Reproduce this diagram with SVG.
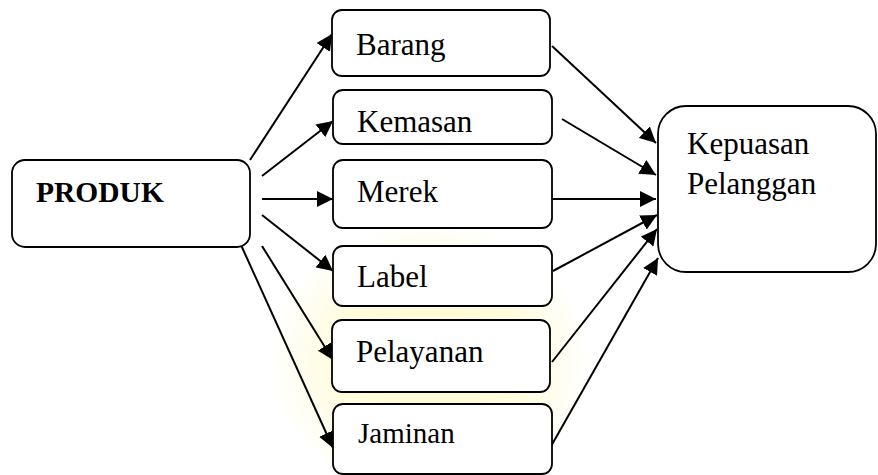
<svg xmlns="http://www.w3.org/2000/svg" width="878" height="475" viewBox="0 0 878 475">
<style>
.box{fill:#fff;stroke:#000;stroke-width:1.8}
.t{font-family:"Liberation Serif","Times New Roman",serif;font-size:31px;fill:#000}
.b{font-weight:bold;font-size:29.5px}
.c{fill:none;stroke:#000;stroke-width:2;marker-end:url(#ah)}
</style>
<defs>
<marker id="ah" markerUnits="userSpaceOnUse" markerWidth="17" markerHeight="16" refX="16" refY="8" orient="auto">
<path d="M0,0 L16,8 L0,16 z" fill="#000"/>
</marker>
<radialGradient id="wm" cx="0.5" cy="0.5" r="0.5">
<stop offset="0" stop-color="#fff6a0" stop-opacity="0.5"/>
<stop offset="0.6" stop-color="#fff6a0" stop-opacity="0.35"/>
<stop offset="1" stop-color="#fff6a0" stop-opacity="0"/>
</radialGradient>
</defs>
<rect width="878" height="475" fill="#fff"/>
<ellipse cx="430" cy="360" rx="160" ry="140" fill="url(#wm)"/>
<g id="connectors">
<line class="c" x1="250" y1="160" x2="332" y2="34"/>
<line class="c" x1="262" y1="176" x2="333" y2="121"/>
<line class="c" x1="262" y1="199" x2="333" y2="199"/>
<line class="c" x1="262" y1="215" x2="333" y2="271"/>
<line class="c" x1="262" y1="246" x2="333" y2="360"/>
<line class="c" x1="241" y1="245" x2="333" y2="448"/>
<line class="c" x1="552" y1="46" x2="656" y2="143"/>
<line class="c" x1="562" y1="119" x2="656" y2="175"/>
<line class="c" x1="549" y1="199" x2="656" y2="199"/>
<line class="c" x1="553" y1="271" x2="657" y2="215"/>
<line class="c" x1="552" y1="362" x2="657" y2="229"/>
<line class="c" x1="550" y1="448" x2="658" y2="258"/>
</g>
<g id="produk"><rect class="box" x="12" y="160" width="238" height="87" rx="13"/><text class="t b" x="36" y="202">PRODUK</text></g>
<g id="barang"><rect class="box" x="332" y="10" width="218" height="66" rx="10"/><text class="t" x="356" y="55">Barang</text></g>
<g id="kemasan"><rect class="box" x="333" y="90" width="219" height="54" rx="10"/><text class="t" x="357" y="132">Kemasan</text></g>
<g id="merek"><rect class="box" x="333" y="160" width="219" height="68" rx="10"/><text class="t" x="357" y="202">Merek</text></g>
<g id="label"><rect class="box" x="333" y="246" width="219" height="60" rx="10"/><text class="t" x="357" y="287">Label</text></g>
<g id="pelayanan"><rect class="box" x="332" y="320" width="218" height="72" rx="10"/><text class="t" x="356" y="362">Pelayanan</text></g>
<g id="jaminan"><rect class="box" x="333" y="404" width="219" height="70" rx="10"/><text class="t" x="358" y="443" style="font-size:29px">Jaminan</text></g>
<g id="kepuasan"><rect class="box" x="658" y="106" width="218" height="166" rx="28"/><text class="t" x="687" y="154">Kepuasan</text><text class="t" x="687" y="194">Pelanggan</text></g>
</svg>
